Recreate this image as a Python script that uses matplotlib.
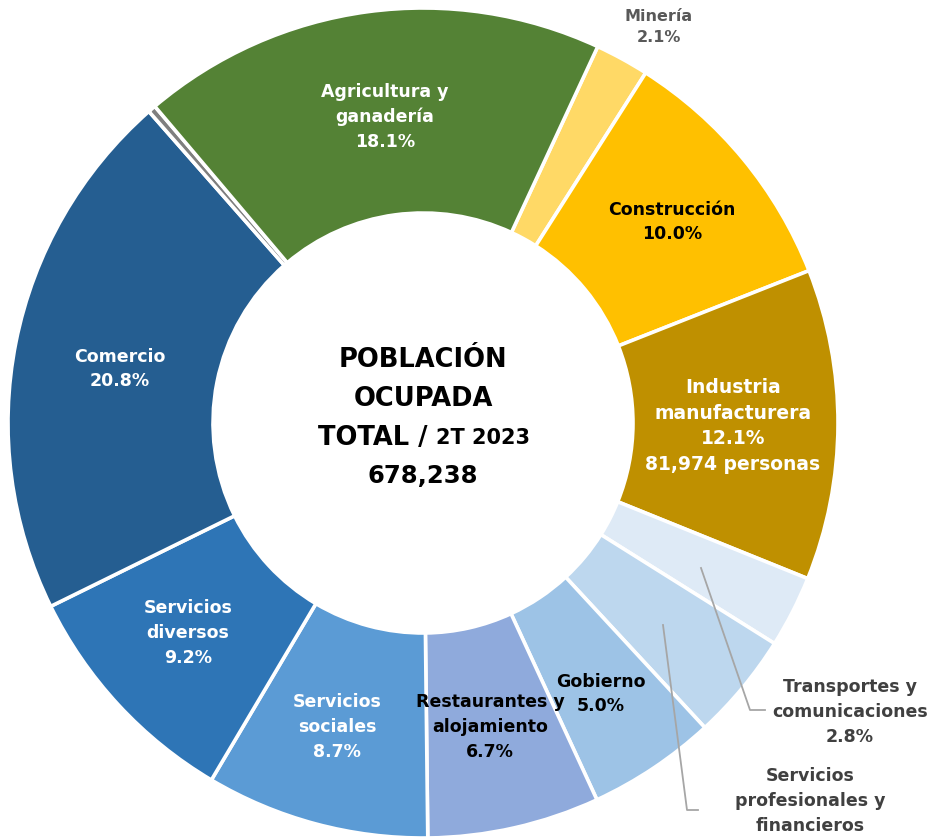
import matplotlib
matplotlib.use("Agg")
import matplotlib.pyplot as plt

categories = ["Minería", "Construcción", "Industria manufacturera", "Transportes y comunicaciones",
              "Servicios profesionales y financieros", "Gobierno", "Restaurantes y alojamiento",
              "Servicios sociales", "Servicios diversos", "Comercio", "No especificado",
              "Agricultura y ganadería"]
values = [2.1, 10.0, 12.1, 2.8, 4.2, 5.0, 6.7, 8.7, 9.2, 20.8, 0.3, 18.1]
colors = ["#FFD966", "#FFC000", "#BF9000", "#DEEAF6", "#BDD7EE", "#9DC3E6", "#8FAADC",
          "#5B9BD5", "#2E75B6", "#255E91", "#7F7F7F", "#548235"]
total = "678,238"
industria_personas = "81,974"

W, H = 934, 839
fig = plt.figure(figsize=(W / 100, H / 100), dpi=100)
ax = fig.add_axes([0, 0, 1, 1])

cx, cy, R = 423, H - 423, 415
ax.pie(values, colors=colors, startangle=65.1, counterclock=False, center=(cx, cy), radius=R,
       wedgeprops=dict(width=R * 0.494, edgecolor="white", linewidth=2.6), frame=True)
ax.set_xlim(0, W)
ax.set_ylim(0, H)
ax.set_aspect("equal")
ax.axis("off")

FONT = "DejaVu Sans"

def label(x, y, text, color, size=12.5, ls=1.47):
    ax.text(x, H - y, text, ha="center", va="center", color=color, fontsize=size,
            fontweight="bold", family=FONT, linespacing=ls)

label(659, 27, f"{categories[0]}\n{values[0]:.1f}%", "#595959", 11.5, 1.5)
label(385, 117, f"Agricultura y\nganadería\n{values[11]:.1f}%", "white")
label(672, 222, f"{categories[1]}\n{values[1]:.1f}%", "black")
label(733, 426, f"Industria\nmanufacturera\n{values[2]:.1f}%\n{industria_personas} personas", "white", 13.5, 1.45)
label(120, 369, f"{categories[9]}\n{values[9]:.1f}%", "white")
label(188, 633, f"Servicios\ndiversos\n{values[8]:.1f}%", "white")
label(337, 727, f"Servicios\nsociales\n{values[7]:.1f}%", "white")
label(490, 727, f"Restaurantes y\nalojamiento\n{values[6]:.1f}%", "black")
label(601, 694, f"{categories[5]}\n{values[5]:.1f}%", "black")
label(850, 712, f"Transportes y\ncomunicaciones\n{values[3]:.1f}%", "#404040")
label(810, 801, "Servicios\nprofesionales y\nfinancieros", "#404040")

# leader lines
ax.plot([701, 750, 765], [H - 568, H - 710, H - 710], color="#A6A6A6", lw=1.3)
ax.plot([663, 687, 698], [H - 625, H - 810, H - 810], color="#A6A6A6", lw=1.3)

# center text
csize = 18.5
ax.text(423, H - 360, "POBLACIÓN", ha="center", va="center", fontsize=csize, fontweight="bold", family=FONT)
ax.text(423, H - 399, "OCUPADA", ha="center", va="center", fontsize=csize, fontweight="bold", family=FONT)
ax.text(436, H - 438, "TOTAL / ", ha="right", va="center", fontsize=csize, fontweight="bold", family=FONT)
ax.text(436, H - 438, "2T 2023", ha="left", va="center", fontsize=15, fontweight="bold", family=FONT)
ax.text(423, H - 476, total, ha="center", va="center", fontsize=17.5, fontweight="bold", family=FONT)

fig.savefig("out.png", dpi=100, facecolor="white")
